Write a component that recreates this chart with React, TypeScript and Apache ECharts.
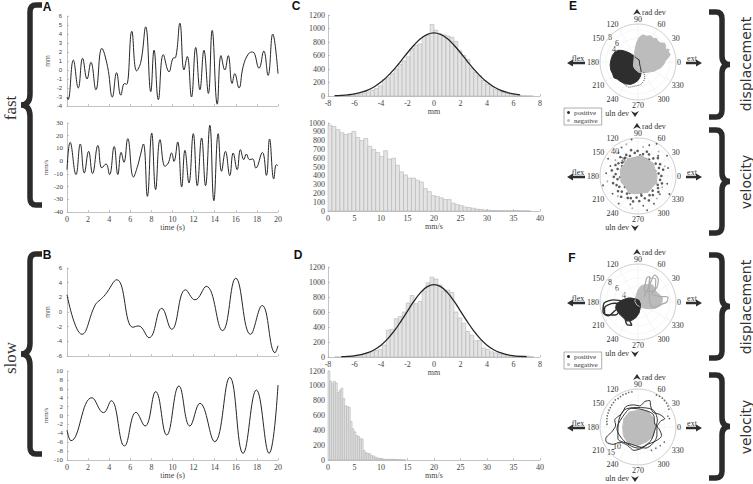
import React, { useEffect, useRef } from 'react';
import * as echarts from 'echarts';

const SERIF = '"Liberation Serif", "Times New Roman", serif';
const SANS = '"Liberation Sans", Arial, sans-serif';

// ---------- time series (A: fast, B: slow) ----------
const A_TOP_T = [0, 0.1, 0.6, 1.07, 1.48, 1.9, 2.27, 2.74, 3.3, 3.84, 4.3, 4.7, 5.1, 5.45, 5.65, 6.14, 6.6, 7.0, 7.46, 7.94, 8.25, 8.66, 9.13, 9.67, 10.05, 10.3, 10.7, 11.09, 11.4, 11.8, 12.2, 12.6, 12.98, 13.4, 13.76, 14.24, 14.6, 14.96, 15.28, 15.65, 15.9, 16.3, 16.7, 17.2, 17.6, 18.2, 18.65, 19.06, 19.5, 20];
const A_TOP_V = [-3.0, -3.3, 1.1, -2.0, 1.3, -1.0, 0.85, -2.2, 2.4, 0.4, -3.0, -0.3, -2.8, -1.5, -1.6, 4.3, -0.1, 0.9, 4.8, -2.4, 2.2, -3.3, 1.7, -0.2, 1.3, 1.4, 5.2, 0.0, 1.5, -3.0, 2.5, -2.2, 2.2, -2.6, 4.4, -3.8, 1.6, 0.0, 1.6, -1.5, -0.4, -2.0, 0.4, 1.8, 2.0, 0.2, 2.1, -0.6, 4.0, -0.4];
const A_BOT_T = [0, 0.3, 0.85, 1.26, 1.64, 2.05, 2.42, 2.93, 3.3, 3.7, 4.03, 4.47, 4.82, 5.13, 5.4, 5.76, 6.3, 6.7, 6.93, 7.24, 7.62, 8.03, 8.4, 8.82, 9.29, 9.6, 9.92, 10.14, 10.49, 10.87, 11.18, 11.56, 11.97, 12.35, 12.76, 13.13, 13.54, 13.92, 14.33, 14.65, 15.02, 15.43, 15.75, 16.13, 16.44, 16.76, 17.0, 17.3, 17.6, 17.9, 18.52, 18.9, 19.2, 19.6, 19.84, 20];
const A_BOT_V = [-6.7, 14.8, -10.6, 13.5, -9.3, 7.7, -9.8, 12.4, -5.4, -2.2, -10.6, 11.6, -10.6, 6.9, -0.9, 17.7, -12.5, -3.6, 3.8, 13.5, -27.7, 22.1, -22.4, 16.9, -4.1, -1.5, 6.4, -0.2, 15.1, -20.3, 8.5, -17.2, 21.6, -19.3, 18.2, -19.3, 28.2, -31.1, 21.6, -8.0, 7.7, -11.4, 6.4, -6.7, 9.0, 1.2, 5.6, 1.2, 1.7, -5.4, 6.9, -11.2, 17.4, -14.0, -2.8, -3.6];
const B_TOP_T = [0, 1.42, 2.68, 3.15, 3.62, 4.72, 6.24, 6.77, 7.78, 8.98, 9.92, 11.24, 12.13, 13.2, 14.74, 16.0, 17.39, 18.5, 19.72, 20];
const B_TOP_V = [2.35, -3.04, 0.98, 1.66, 2.35, 4.4, -2.08, -1.9, -3.5, 0.5, -2.36, 3.03, 1.66, 3.5, -2.54, 4.6, -3.04, 0.89, -5.55, -4.6];
const B_BOT_T = [0, 0.38, 2.36, 3.46, 4.19, 5.45, 6.55, 7.4, 8.41, 9.45, 10.61, 11.65, 12.6, 14.0, 15.43, 16.69, 17.95, 19.15, 20];
const B_BOT_V = [-3.26, -5.66, 4.0, 0.64, 3.33, -6.85, 0.71, -2.36, 5.36, -4.38, 6.63, -2.36, 2.73, -5.88, 8.58, -8.5, 5.73, -8.5, 6.85];

// ---------- histograms (C: fast, D: slow) ----------
const C_TOP_START = -7.5, C_TOP_W = 0.3;
const C_TOP_COUNTS = [2, 3, 5, 8, 12, 18, 28, 40, 60, 85, 110, 150, 250, 270, 330, 400, 470, 520, 580, 700, 750, 770, 880, 900, 1060, 975, 920, 905, 890, 870, 810, 670, 600, 540, 410, 350, 300, 230, 175, 140, 100, 75, 55, 40, 25, 15, 8, 4, 2, 1];
const C_FIT_X = [-7.5, -7, -6.5, -6, -5.5, -5, -4.5, -4, -3.5, -3, -2.5, -2, -1.5, -1, -0.5, 0, 0.5, 1, 1.5, 2, 2.5, 3, 3.5, 4, 4.5, 5, 5.5, 6, 6.5];
const C_FIT_Y = [5, 9, 17, 31, 54, 88, 138, 206, 294, 399, 518, 641, 756, 851, 913, 935, 913, 851, 756, 641, 518, 399, 294, 206, 138, 88, 54, 31, 17];
const C_BOT_START = 0, C_BOT_W = 0.75;
const C_BOT_COUNTS = [975, 960, 925, 890, 870, 880, 905, 835, 800, 825, 735, 700, 665, 620, 685, 590, 600, 520, 445, 410, 375, 375, 350, 330, 255, 220, 175, 165, 150, 130, 130, 90, 75, 62, 45, 40, 32, 22, 17, 12, 9, 6, 5, 4, 4, 3, 3, 5, 3, 2, 1];
const D_TOP_START = -7.5, D_TOP_W = 0.3;
const D_TOP_COUNTS = [0, 0, 0, 10, 15, 25, 30, 40, 55, 70, 85, 100, 160, 360, 370, 510, 540, 600, 720, 820, 710, 740, 880, 990, 1065, 1040, 960, 880, 890, 860, 600, 520, 450, 340, 290, 215, 220, 120, 100, 70, 55, 40, 35, 25, 15, 10, 15, 20, 12, 5];
const D_FIT_X = [-7, -6.5, -6, -5.5, -5, -4.5, -4, -3.5, -3, -2.5, -2, -1.5, -1, -0.5, 0, 0.5, 1, 1.5, 2, 2.5, 3, 3.5, 4, 4.5, 5, 5.5, 6, 6.5, 7];
const D_FIT_Y = [4, 8, 16, 31, 57, 97, 157, 241, 348, 475, 613, 748, 862, 938, 965, 938, 862, 748, 613, 475, 348, 241, 157, 97, 57, 31, 16, 8, 4];
const D_BOT_START = 0, D_BOT_W = 0.35;
const D_BOT_COUNTS = [1200, 1065, 1030, 1060, 1040, 910, 940, 970, 830, 730, 720, 710, 520, 420, 380, 330, 320, 290, 280, 130, 100, 90, 85, 60, 55, 40, 30, 25, 20, 15, 12, 10, 8, 8, 10, 10, 8, 6, 4, 3, 2, 1];

// ---------- polar plots (E: fast, F: slow) [radius, angle] ----------
const E_DISP_NEG = [[1.6, 225], [2.0, 250], [2.6, 275], [3.0, 295], [3.6, 315], [4.6, 330], [5.8, 345], [6.5, 355], [6.8, 2], [7.6, 8], [8.3, 13], [8.0, 18], [8.4, 22], [7.6, 25], [7.9, 30], [8.2, 35], [7.4, 40], [7.2, 46], [7.5, 52], [7.0, 58], [7.3, 64], [6.8, 72], [6.9, 80], [6.2, 87], [5.0, 93], [4.2, 97], [3.0, 105], [2.2, 113], [1.5, 130], [1.1, 160], [1.2, 200], [1.6, 225]];
const E_DISP_POS = [[1.0, 110], [2.0, 125], [3.1, 133], [4.2, 140], [5.1, 145], [5.8, 150], [6.3, 157], [6.6, 165], [6.8, 176], [7.0, 186], [7.1, 197], [7.0, 205], [7.2, 213], [6.7, 220], [6.6, 226], [6.4, 238], [6.0, 248], [5.8, 253], [5.2, 262], [4.6, 270], [3.6, 280], [2.6, 288], [1.5, 295], [0.9, 300], [0.6, 60], [1.0, 110]];
const E_DISP_POS_TRAIL = [[6.5, 239], [6.7, 250], [6.1, 262], [5.6, 278], [4.3, 293], [2.9, 300]];

const E_VEL_NEG_CORE = [[22, 0], [21, 20], [23, 40], [22, 60], [24, 80], [22, 100], [23, 120], [21, 140], [22, 160], [20, 180], [21, 200], [19, 220], [22, 240], [21, 260], [20, 280], [22, 300], [21, 320], [23, 340], [22, 360]];
const E_VEL_POS_RING = [[27, 0], [24, 7], [30, 14], [26, 21], [29, 28], [25, 35], [31, 42], [27, 49], [23, 56], [28, 63], [30, 70], [26, 77], [24, 84], [29, 91], [27, 98], [31, 105], [25, 112], [28, 119], [26, 126], [30, 133], [24, 140], [27, 147], [29, 154], [25, 161], [31, 168], [26, 175], [28, 182], [24, 189], [30, 196], [27, 203], [25, 210], [29, 217], [26, 224], [31, 231], [24, 238], [28, 245], [27, 252], [30, 259], [25, 266], [29, 273], [23, 280], [27, 287], [31, 294], [26, 301], [28, 308], [24, 315], [30, 322], [27, 329], [25, 336], [29, 343], [26, 350]];
const E_VEL_POS_INNER = [[18, 4], [21, 16], [16, 28], [20, 40], [17, 52], [22, 64], [19, 76], [15, 88], [21, 100], [18, 112], [20, 124], [16, 136], [22, 148], [17, 160], [19, 172], [21, 184], [15, 196], [18, 208], [20, 220], [17, 232], [22, 244], [16, 256], [19, 268], [21, 280], [18, 292], [15, 304], [20, 316], [17, 328], [22, 340], [19, 352], [10, 30], [8, 150], [11, 260], [12, 80], [13, 200], [9, 320]];
const E_VEL_POS_OUTER = [[36, 15], [41, 35], [38, 70], [43, 100], [35, 130], [40, 150], [37, 175], [42, 195], [36, 215], [39, 235], [34, 255], [41, 285], [37, 300], [42, 330], [35, 345], [43, 60], [38, 120], [33, 45], [34, 160], [35, 280], [33, 320]];
const E_VEL_NEG_DOTS = [[33, 20], [37, 50], [34, 80], [39, 110], [32, 145], [36, 190], [33, 225], [38, 260], [34, 310], [31, 335]];

const F_DISP_NEG = [[0.8, 250], [1.2, 290], [2.2, 315], [3.4, 330], [4.6, 340], [5.6, 350], [6.0, 0], [6.2, 10], [5.6, 20], [5.2, 30], [5.4, 40], [5.6, 50], [5.0, 60], [4.6, 70], [4.0, 80], [3.0, 90], [2.0, 100], [1.2, 120], [0.8, 170], [0.8, 250]];
const F_DISP_NEG_LOOPS = [[2, 40], [5, 55], [7.9, 58], [7.6, 48], [6, 38], [4, 30], [5.5, 15], [7.6, 9], [7.2, 0], [6, 355], [4, 340], [3, 20], [6.8, 62], [7.2, 52], [5, 35], [3, 60], [6.5, 70], [7.0, 65], [4, 50]];
const F_DISP_POS = [[0.8, 120], [2, 150], [3.2, 165], [4.2, 175], [5.4, 185], [5.8, 195], [5.6, 210], [5.4, 225], [5.5, 240], [5.0, 250], [4.0, 262], [2.8, 275], [1.6, 290], [0.8, 320], [0.5, 60], [0.8, 120]];
const F_DISP_POS_LOOPS = [[3, 180], [6, 175], [8.5, 182], [9.1, 196], [8.2, 205], [6, 200], [4, 190], [6.5, 210], [8.8, 200], [8.5, 190], [6, 183], [3, 200], [5, 230], [6.3, 245], [6.0, 255], [4.5, 240], [3, 220]];

const F_VEL_NEG_CORE = [[6.5, 0], [6.8, 30], [7.0, 60], [6.3, 90], [6.6, 120], [6.2, 150], [5.8, 180], [6.4, 210], [7.4, 240], [7.0, 270], [6.5, 300], [6.8, 330], [6.5, 360]];
const F_VEL_POS_LOOPS = [[7, 0], [9, 15], [10.6, 17], [9.5, 30], [8, 45], [9.5, 60], [11, 66], [10, 75], [8, 85], [8.5, 100], [9, 120], [8, 140], [9.2, 164], [8.5, 175], [10, 190], [13, 200], [13.3, 205], [11.5, 215], [9, 220], [8, 240], [9, 260], [8.2, 280], [7.5, 300], [8.5, 320], [9.5, 340], [8, 355], [6.5, 10], [7.5, 40], [6.8, 80], [7.5, 110], [7, 150], [8, 185], [7.5, 230], [8, 270], [7.2, 310], [6.5, 350], [7.8, 20], [8.6, 50], [7.4, 95], [8.3, 130], [7.6, 170], [8.8, 210], [7.0, 250], [8.5, 290], [7.9, 335], [7.2, 5]];
const F_VEL_POS_DOTS = [[13.5, 100], [13.6, 105], [13.4, 110], [13.5, 115], [13.3, 120], [13.2, 125], [13.4, 130], [13.1, 135], [13.0, 140], [12.8, 145], [12.7, 150], [12.5, 155], [12.4, 160], [12.2, 165], [12.0, 170], [11.8, 175], [14.1, 40], [14.2, 45], [14.3, 50], [14.2, 55], [14.0, 60], [13.8, 35], [13.5, 30], [11, 320], [10.5, 310], [10.2, 300], [11.5, 330], [12, 20], [12.3, 15]];

const DARK = '#2e2e2e';
const LIGHT = '#bcbcbc';

const LBRACE_D = 'M 22 3 L 16 3 Q 10 3 10 10 L 10 92 Q 10 103 1 103 Q 10 103 10 114 L 10 196 Q 10 203 16 203 L 22 203';
const RBRACE_D = 'M 0 3 L 7 3 Q 13 3 13 10 L 13 47 Q 13 55.5 21 55.5 Q 13 55.5 13 64 L 13 101 Q 13 108 7 108 L 0 108';
let registered = false;
function registerShapes() {
  if (registered) return;
  echarts.graphic.registerShape('lbrace', echarts.graphic.extendPath(LBRACE_D, {}));
  echarts.graphic.registerShape('rbrace', echarts.graphic.extendPath(RBRACE_D, {}));
  registered = true;
}

function pairs(t: number[], v: number[]) {
  return t.map((x, i) => [x, v[i]]);
}
function bins(start: number, w: number, counts: number[]) {
  return counts.map((c, i) => [start + i * w, start + (i + 1) * w, c]);
}

const axisLineStyle = { color: '#b5b5b5', width: 0.8 };
const plain = (v: number) => String(v);

function xAx(gi: number, min: number, max: number, interval: number, name: string, showLabels: boolean, nameGap: number) {
  return {
    type: 'value', gridIndex: gi, min, max, interval,
    axisLine: { show: true, lineStyle: axisLineStyle, onZero: false },
    axisTick: { show: true, inside: true, length: 2, lineStyle: axisLineStyle },
    axisLabel: { show: showLabels, fontFamily: SERIF, fontSize: 8, color: '#444', margin: 3, formatter: plain },
    splitLine: { show: false },
    name, nameLocation: 'middle', nameGap,
    nameTextStyle: { fontFamily: SERIF, fontSize: 8, color: '#444' },
  };
}
function yAx(gi: number, min: number, max: number, interval: number, name: string, font: string, size: number, margin: number) {
  return {
    type: 'value', gridIndex: gi, min, max, interval,
    axisLine: { show: true, lineStyle: axisLineStyle, onZero: false },
    axisTick: { show: true, inside: true, length: 2, lineStyle: axisLineStyle },
    axisLabel: { fontFamily: font, fontSize: size, color: '#444', margin, formatter: plain },
    splitLine: { show: false },
    name, nameLocation: 'middle', nameGap: 16,
    nameTextStyle: { fontFamily: font, fontSize: 7, color: '#555' },
  };
}

function histSeries(gi: number, data: number[][]) {
  return {
    type: 'custom', xAxisIndex: gi, yAxisIndex: gi, data,
    encode: { x: [0, 1], y: 2 },
    renderItem: (params: any, api: any) => {
      const p0 = api.coord([api.value(0), api.value(2)]);
      const p1 = api.coord([api.value(1), 0]);
      return {
        type: 'rect',
        shape: { x: p0[0], y: p0[1], width: p1[0] - p0[0], height: p1[1] - p0[1] },
        style: { fill: '#e4e4e4', stroke: '#ababab', lineWidth: 0.5 },
      };
    },
  };
}

function lineSeries(gi: number, data: number[][], width = 1) {
  return {
    type: 'line', xAxisIndex: gi, yAxisIndex: gi, data, smooth: 0.45,
    symbol: 'none', lineStyle: { color: '#262626', width }, itemStyle: { color: '#262626' },
  };
}

function polarArea(pi: number, name: string, data: number[][], color: string) {
  return {
    type: 'line', name, coordinateSystem: 'polar', polarIndex: pi, data, symbol: 'none', smooth: false,
    lineStyle: { color, width: 1 }, itemStyle: { color }, areaStyle: { color, opacity: 1 },
  };
}
function polarLine(pi: number, name: string, data: number[][], color: string, width = 1, type = 'solid') {
  return {
    type: 'line', name, coordinateSystem: 'polar', polarIndex: pi, data, symbol: 'none', smooth: 0.3,
    lineStyle: { color, width, type }, itemStyle: { color },
  };
}
function polarDots(pi: number, name: string, data: number[][], color: string, size = 2) {
  return {
    type: 'scatter', name, coordinateSystem: 'polar', polarIndex: pi, data, symbolSize: size,
    itemStyle: { color },
  };
}

function polarDecor(cx: number, cy: number, radial: { t: string; x: number; y: number }[]) {
  const txt = (t: string, x: number, y: number, align = 'center', size = 8) => ({
    type: 'text', x, y, style: { text: t, fontFamily: SERIF, fontSize: size, fill: '#333', align, verticalAlign: 'middle' },
  });
  const els: any[] = [];
  els.push({ type: 'polygon', shape: { points: [[cx - 1, cy - 53], [cx + 3, cy - 47], [cx - 1, cy - 49], [cx - 5, cy - 47]] }, style: { fill: DARK } });
  els.push(txt('rad dev', cx + 4, cy - 50, 'left'));
  els.push({ type: 'polygon', shape: { points: [[cx - 3, cy + 55], [cx + 1, cy + 49], [cx - 3, cy + 51], [cx - 7, cy + 49]] }, style: { fill: DARK } });
  els.push(txt('uln dev', cx - 9, cy + 51, 'right'));
  const ly = cy + 1;
  els.push({ type: 'polygon', shape: { points: [[cx - 71, ly], [cx - 65, ly - 3.5], [cx - 65, ly - 1.2], [cx - 53, ly - 1.2], [cx - 53, ly + 1.2], [cx - 65, ly + 1.2], [cx - 65, ly + 3.5]] }, style: { fill: DARK } });
  els.push(txt('flex', cx - 60, cy - 4));
  els.push({ type: 'polygon', shape: { points: [[cx + 64, ly], [cx + 58, ly - 3.5], [cx + 58, ly - 1.2], [cx + 48, ly - 1.2], [cx + 48, ly + 1.2], [cx + 58, ly + 1.2], [cx + 58, ly + 3.5]] }, style: { fill: DARK } });
  els.push(txt('ext', cx + 54, cy - 4));
  radial.forEach((r) => els.push(txt(r.t, r.x, r.y, 'center', 8)));
  return els;
}

function angleAx(pi: number) {
  return {
    type: 'value', polarIndex: pi, min: 0, max: 360, interval: 30, startAngle: 0, clockwise: false,
    axisLine: { show: true, lineStyle: { color: '#c8c8c8', width: 0.8 } },
    axisTick: { show: false },
    axisLabel: { fontFamily: SERIF, fontSize: 8, color: '#333', margin: 1, formatter: (v: number) => (v === 360 ? '' : String(v)) },
    splitLine: { show: true, lineStyle: { color: '#efefef', width: 0.6 } },
  };
}
function radiusAx(pi: number, max: number, interval: number) {
  return {
    type: 'value', polarIndex: pi, min: 0, max, interval,
    axisLine: { show: false }, axisTick: { show: false }, axisLabel: { show: false },
    splitLine: { show: true, lineStyle: { color: '#f2f2f2', width: 0.6 } },
  };
}

function legendAt(top: number) {
  return {
    data: ['positive', 'negative'], left: 564, top, orient: 'vertical', icon: 'circle',
    itemWidth: 3, itemHeight: 3, itemGap: 1, padding: [1, 4, 1, 3],
    borderColor: '#999', borderWidth: 0.8, selectedMode: false,
    textStyle: { fontFamily: SERIF, fontSize: 7, color: '#333', padding: [0, 0, 0, -1] },
  };
}

export default function App() {
  const ref = useRef<HTMLDivElement>(null);
  useEffect(() => {
    if (!ref.current) return;
    registerShapes();
    const chart = echarts.init(ref.current, undefined, { renderer: 'svg' });

    const letter = (t: string, x: number, y: number) => ({
      type: 'text', x, y, style: { text: t, fontFamily: SANS, fontWeight: 'bold', fontSize: 12, fill: '#111', align: 'center', verticalAlign: 'middle' },
    });
    const sideText = (t: string, x: number, y: number, font: string, size: number) => ({
      type: 'text', x, y, rotation: Math.PI / 2,
      style: { text: t, fontFamily: font, fontSize: size, fill: '#333', align: 'center', verticalAlign: 'middle' },
    });
    const braceStyle = { fill: 'none', stroke: '#2b2b2b', lineWidth: 5.5, lineJoin: 'miter' };
    const DV = '"DejaVu Sans", sans-serif';

    const graphic: any[] = [
      letter('A', 47, 7), letter('B', 47, 255), letter('C', 296, 6), letter('D', 298, 255), letter('E', 573, 6), letter('F', 572, 258),
      sideText('fast', 10, 108, SERIF, 17), sideText('slow', 10, 358, SERIF, 17),
      { type: 'lbrace', x: 20, y: 2, style: braceStyle },
      { type: 'lbrace', x: 20, y: 251, style: braceStyle },
      { type: 'rbrace', x: 709, y: 9, style: braceStyle },
      { type: 'rbrace', x: 709, y: 127, scaleY: 103 / 105, style: braceStyle },
      { type: 'rbrace', x: 709, y: 252, scaleY: 103 / 105, style: braceStyle },
      { type: 'rbrace', x: 709, y: 372, scaleY: 103 / 105, style: braceStyle },
      sideText('displacement', 746, 64, DV, 14),
      sideText('velocity', 746, 182, DV, 14),
      sideText('displacement', 746, 307, DV, 14),
      sideText('velocity', 746, 427, DV, 14),
      ...polarDecor(638, 62, [{ t: '2', x: 621, y: 55 }, { t: '4', x: 614, y: 49 }, { t: '6', x: 617, y: 43 }, { t: '8', x: 610, y: 37 }]),
      ...polarDecor(638, 176, [{ t: '40', x: 615, y: 151 }, { t: '30', x: 624, y: 160 }]),
      ...polarDecor(638, 302, [{ t: '2', x: 629, y: 300 }, { t: '4', x: 624, y: 295 }, { t: '6', x: 617, y: 288 }, { t: '8', x: 610, y: 282 }]),
      ...polarDecor(638, 427, [{ t: '10', x: 617, y: 446 }, { t: '15', x: 611, y: 452 }]),
    ];

    const option: any = {
      animation: false,
      backgroundColor: '#ffffff',
      grid: [
        { left: 67, top: 16, width: 211, height: 90 },
        { left: 67, top: 123, width: 211, height: 89 },
        { left: 67, top: 268, width: 211, height: 88 },
        { left: 67, top: 371, width: 211, height: 89 },
        { left: 328, top: 15, width: 212, height: 81 },
        { left: 328, top: 123, width: 212, height: 88 },
        { left: 328, top: 267, width: 212, height: 90 },
        { left: 328, top: 371, width: 212, height: 89 },
      ],
      xAxis: [
        xAx(0, 0, 20, 2, '', false, 10),
        xAx(1, 0, 20, 2, 'time (s)', true, 9),
        xAx(2, 0, 20, 2, '', false, 10),
        xAx(3, 0, 20, 2, 'time (s)', true, 9),
        xAx(4, -8, 8, 2, 'mm', true, 9),
        xAx(5, 0, 40, 5, 'mm/s', true, 11),
        xAx(6, -8, 8, 2, 'mm', true, 9),
        xAx(7, 0, 40, 5, 'mm/s', true, 11),
      ],
      yAxis: [
        yAx(0, -4, 6, 1, 'mm', SANS, 6, 5),
        yAx(1, -40, 30, 10, 'mm/s', SERIF, 7, 4),
        yAx(2, -6, 6, 2, 'mm', SANS, 6, 5),
        yAx(3, -10, 10, 2, 'mm/s', SERIF, 7, 4),
        yAx(4, 0, 1200, 200, '', SERIF, 8, 3),
        yAx(5, 0, 1000, 100, '', SERIF, 8, 3),
        yAx(6, 0, 1200, 200, '', SERIF, 8, 3),
        yAx(7, 0, 1200, 200, '', SERIF, 8, 3),
      ],
      polar: [
        { center: [638, 62], radius: 38 },
        { center: [638, 176], radius: 38 },
        { center: [638, 302], radius: 38 },
        { center: [638, 427], radius: 38 },
      ],
      angleAxis: [angleAx(0), angleAx(1), angleAx(2), angleAx(3)],
      radiusAxis: [radiusAx(0, 9.5, 2), radiusAx(1, 44, 10), radiusAx(2, 9.5, 2), radiusAx(3, 14.4, 5)],
      legend: [legendAt(108), legendAt(352)],
      graphic,
      series: [
        lineSeries(0, pairs(A_TOP_T, A_TOP_V)),
        lineSeries(1, pairs(A_BOT_T, A_BOT_V)),
        lineSeries(2, pairs(B_TOP_T, B_TOP_V)),
        lineSeries(3, pairs(B_BOT_T, B_BOT_V)),
        histSeries(4, bins(C_TOP_START, C_TOP_W, C_TOP_COUNTS)),
        lineSeries(4, pairs(C_FIT_X, C_FIT_Y), 1.3),
        histSeries(5, bins(C_BOT_START, C_BOT_W, C_BOT_COUNTS)),
        histSeries(6, bins(D_TOP_START, D_TOP_W, D_TOP_COUNTS)),
        lineSeries(6, pairs(D_FIT_X, D_FIT_Y), 1.3),
        histSeries(7, bins(D_BOT_START, D_BOT_W, D_BOT_COUNTS)),
        // E displacement
        polarArea(0, 'positive', E_DISP_POS, DARK),
        polarArea(0, 'negative', E_DISP_NEG, LIGHT),
        polarLine(0, 'positive', E_DISP_POS_TRAIL, '#555', 1, 'dotted'),
        // E velocity
        polarArea(1, 'negative', E_VEL_NEG_CORE, LIGHT),
        polarDots(1, 'positive', E_VEL_POS_RING, '#333', 2.6),
        polarDots(1, 'positive', E_VEL_POS_INNER, '#4a4a4a', 2.4),
        polarDots(1, 'positive', E_VEL_POS_OUTER, '#333', 1.8),
        polarDots(1, 'negative', E_VEL_NEG_DOTS, '#999', 1.8),
        // F displacement
        polarArea(2, 'negative', F_DISP_NEG, LIGHT),
        polarLine(2, 'negative', F_DISP_NEG_LOOPS, '#aaaaaa', 1.2),
        polarArea(2, 'positive', F_DISP_POS, DARK),
        polarLine(2, 'positive', F_DISP_POS_LOOPS, DARK, 1.4),
        // F velocity
        polarArea(3, 'negative', F_VEL_NEG_CORE, LIGHT),
        polarLine(3, 'positive', F_VEL_POS_LOOPS, '#333', 1),
        polarDots(3, 'positive', F_VEL_POS_DOTS, '#444', 1.6),
      ],
    };
    chart.setOption(option);
    return () => chart.dispose();
  }, []);
  return <div ref={ref} style={{ position: 'fixed', left: 0, top: 0, width: 753, height: 484, background: '#fff' }} />;
}
